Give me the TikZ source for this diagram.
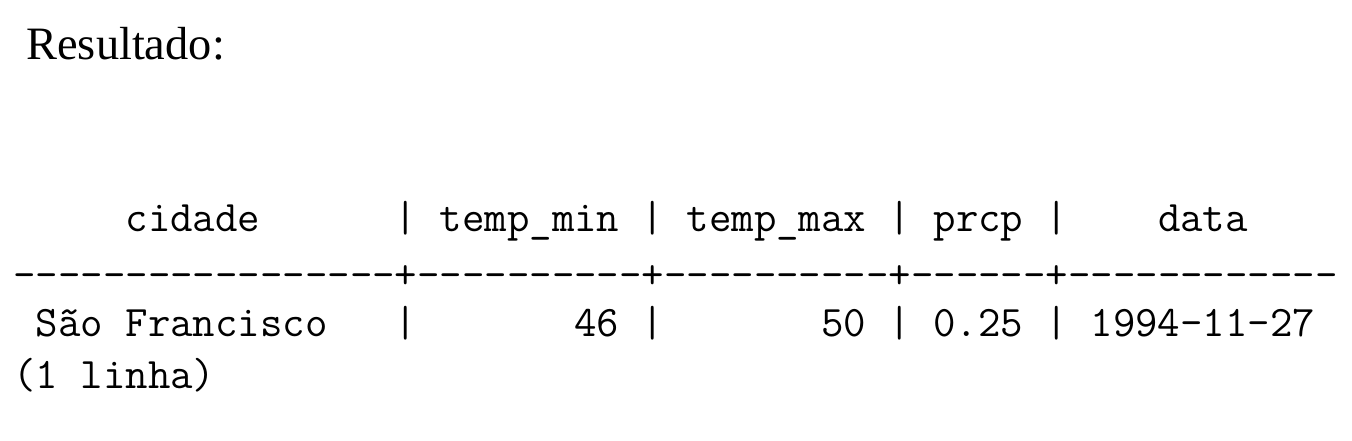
\documentclass[tikz,border=0pt]{standalone}
\usepackage{fontspec}
\newfontfamily\titlefont{Liberation Serif}
\ExplSyntaxOn
\NewDocumentCommand\myrep{mm}{\prg_replicate:nn{#1}{#2}}
\ExplSyntaxOff
\newcommand\sps[1]{\myrep{#1}{\phantom{x}}}
\newcommand\dsh[1]{\myrep{#1}{-{}}}
\begin{document}
\begin{tikzpicture}[x=0.5pt,y=-0.5pt,
  mono/.style={inner sep=0pt,anchor=base west,font=\ttfamily\fontsize{21.79pt}{26pt}\selectfont\addfontfeatures{FakeBold=1.4}},
  ttl/.style={inner sep=0pt,anchor=base west,font=\titlefont\fontsize{23.2pt}{28pt}\selectfont}]
\useasboundingbox (0,0) rectangle (1352,440);
\node[ttl] (title) at (26,59.3) {Resultado:};
\node[mono] (header) at (13,231) {\sps{5}cidade\sps{6}|\sps{1}temp\_min\sps{1}|\sps{1}temp\_max\sps{1}|\sps{1}prcp\sps{1}|\sps{4}data};
\node[mono] (sep) at (13,288.5) {\dsh{17}+\dsh{10}+\dsh{10}+\dsh{6}+\dsh{12}};
\node[mono] (row) at (13,336) {\sps{1}São\sps{1}Francisco\sps{3}|\sps{7}46\sps{1}|\sps{7}50\sps{1}|\sps{1}0.25\sps{1}|\sps{1}1994-11-27};
\node[mono] (foot) at (13,388.5) {(1\sps{1}linha)};
\end{tikzpicture}
\end{document}
